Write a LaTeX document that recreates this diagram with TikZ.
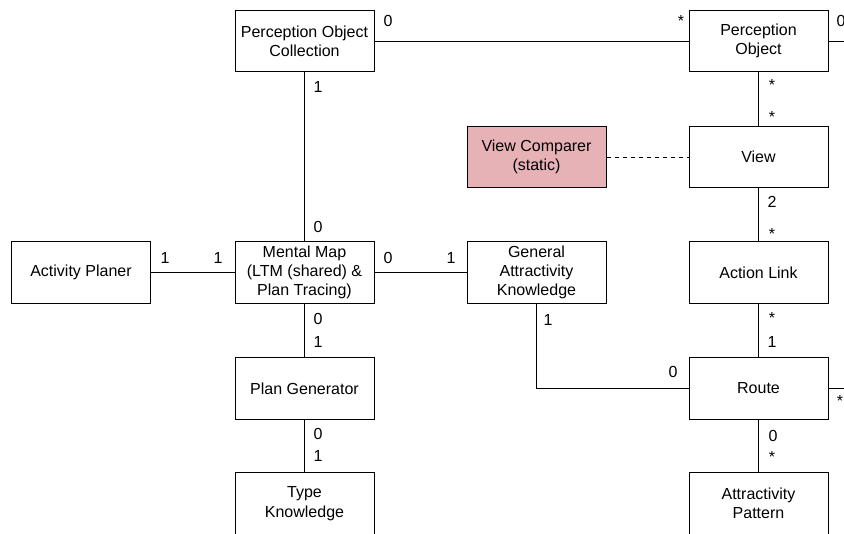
\documentclass[tikz,border=0pt]{standalone}
\usepackage{fontspec}
\setmainfont{Liberation Sans}
\usetikzlibrary{positioning}
\definecolor{cmppink}{RGB}{230,178,182}
\tikzset{klass/.style = {draw, minimum width=104.25pt, minimum height=46pt,
                         inner sep=0pt, align=center, fill=white},
         mult/.style = {inner sep=0pt}}

\begin{document}
\begin{tikzpicture}[x=0.75pt, y=-0.75pt, line width=0.75pt, font=\fontsize{12}{14.5}\selectfont]
	\useasboundingbox (0,0) rectangle (844,533);
	\node[klass] (poc) at (304.5,41) {Perception Object\\Collection};
	\node[klass] (po) at (758.5,41) {Perception\\Object};
	\node[klass] (view) at (758.5,157) {View};
	\node[klass, fill=cmppink] (cmp) at (536.5,157) {View Comparer\\(static)};
	\node[klass] (planer) at (81,272.5) {Activity Planer};
	\node[klass] (map) at (304.5,272.5) {Mental Map\\(LTM (shared) \&\\Plan Tracing)};
	\node[klass] (gak) at (536.5,272.5) {General\\Attractivity\\Knowledge};
	\node[klass] (link) at (758.5,272.5) {Action Link};
	\node[klass] (gen) at (304.5,388.5) {Plan Generator};
	\node[klass] (route) at (758.5,388.5) {Route};
	\node[klass] (type) at (304.5,503.5) {Type\\Knowledge};
	\node[klass] (pattern) at (758.5,503.5) {Attractivity\\Pattern};
	\coordinate (poout) at (844,41);
	\coordinate (routeout) at (844,388.5);
	\draw (poc) -- (po);
	\draw (po) -- (poout);
	\draw (poc) -- (map);
	\draw (po) -- (view);
	\draw[dashed] (cmp) -- (view);
	\draw (view) -- (link);
	\draw (planer) -- (map);
	\draw (map) -- (gak);
	\draw (map) -- (gen);
	\draw (gen) -- (type);
	\draw (link) -- (route);
	\draw (route) -- (pattern);
	\draw (route) -- (routeout);
	\draw (gak) |- (route);
	\node[mult] (m1) at (388,21) {0};
	\node[mult] (m2) at (681,21) {*};
	\node[mult] (m3) at (841,21) {0};
	\node[mult] (m4) at (318,87) {1};
	\node[mult] (m5) at (318,227) {0};
	\node[mult] (m6) at (772,85) {*};
	\node[mult] (m7) at (772,117) {*};
	\node[mult] (m8) at (772,202) {2};
	\node[mult] (m9) at (772,234) {*};
	\node[mult] (m10) at (772,318) {*};
	\node[mult] (m11) at (772,342) {1};
	\node[mult] (m12) at (773,436) {0};
	\node[mult] (m13) at (772,457) {*};
	\node[mult] (m14) at (165,258) {1};
	\node[mult] (m15) at (218,258) {1};
	\node[mult] (m16) at (388,258) {0};
	\node[mult] (m17) at (451,258) {1};
	\node[mult] (m18) at (318,319) {0};
	\node[mult] (m19) at (318,342) {1};
	\node[mult] (m20) at (318,434) {0};
	\node[mult] (m21) at (318,456) {1};
	\node[mult] (m22) at (548,320) {1};
	\node[mult] (m23) at (673,372) {0};
	\node[mult] (m24) at (840,401) {*};
\end{tikzpicture}
\end{document}
